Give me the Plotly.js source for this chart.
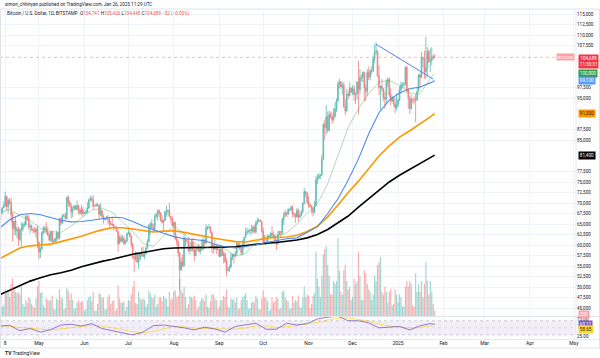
<!DOCTYPE html>
<html><head><meta charset="utf-8">
<script src="https://cdn.plot.ly/plotly-3.0.1.min.js"></script>
<style>html,body{margin:0;padding:0;background:#fff;}#chart{width:600px;height:358px;}</style>
</head><body><div id="chart"></div>
<script>
// ---------- DATA (prices in thousands of USD) ----------
const startDate = '2024-04-04';
const firstOpenK = 65.9;
const closeK = [
 68.5,67.8,68.9,69.4,71.6,69.1,70.6,70.0,67.2,63.9,65.7,63.4,63.8,61.3,63.5,63.8,64.9,64.9,66.8,66.4,64.3,64.5,63.8,63.4,63.1,63.8,60.6,
 58.3,59.1,62.9,63.9,64.0,63.1,62.3,61.2,63.1,60.8,60.8,61.5,62.9,61.6,66.3,65.2,67.0,66.9,66.3,71.4,70.1,69.2,67.9,68.5,69.3,68.5,69.4,68.4,67.6,68.4,67.5,
 67.7,67.8,68.8,70.6,71.1,70.8,69.3,69.3,69.6,69.5,67.3,68.2,66.8,66.0,66.2,66.6,66.5,65.2,64.9,64.8,64.1,64.3,63.2,60.3,61.8,60.9,61.6,60.3,60.9,62.7,
 62.9,62.1,60.2,57.0,56.7,58.2,55.9,56.7,57.9,57.7,57.3,57.9,59.2,60.8,64.7,65.1,64.1,63.9,66.7,67.2,68.2,67.6,65.9,65.4,65.8,67.9,68.0,68.3,66.8,66.2,64.6,
 65.3,61.5,60.7,58.1,54.0,56.0,55.1,61.7,60.9,60.9,58.7,59.3,60.6,58.7,57.5,58.9,59.5,58.4,59.5,59.0,61.2,60.4,64.1,64.2,64.2,62.9,59.4,59.0,59.4,59.1,58.9,
 57.3,59.1,57.5,57.9,56.1,53.9,54.1,54.8,57.0,57.6,57.3,58.1,60.5,60.0,59.1,58.2,60.3,61.8,62.9,63.2,63.4,63.6,63.3,64.3,63.1,65.2,65.8,65.9,65.6,63.3,
 60.8,60.6,60.7,62.1,62.1,62.8,62.3,62.2,60.6,60.3,62.5,63.2,62.9,66.0,67.0,67.6,67.4,68.4,68.4,69.0,67.4,67.4,66.7,68.2,66.6,67.0,68.0,69.9,72.7,72.3,70.2,
 69.5,69.3,68.7,67.8,69.4,75.6,75.9,76.5,76.7,80.4,88.7,87.9,90.5,87.3,91.1,90.6,89.8,90.5,92.3,94.3,98.4,98.9,97.7,98.0,93.0,91.9,95.9,95.6,97.4,96.4,
 97.2,95.8,96.0,98.8,97.0,99.9,99.9,101.1,97.4,96.6,101.1,100.0,101.4,101.4,104.3,106.0,106.1,100.2,97.5,97.8,97.2,95.1,94.7,98.7,99.4,95.8,94.2,95.2,93.6,92.7,93.4,
 94.4,96.9,98.1,98.2,98.3,102.3,96.9,95.0,92.5,94.7,94.6,94.5,94.5,96.5,100.5,99.9,104.4,104.5,101.2,102.2,106.1,103.7,104.0,104.8,104.741,104.689
];
const highK = [
 69.2,68.7,69.0,70.3,72.7,71.7,71.1,71.2,71.2,67.9,65.7,66.9,64.3,64.4,64.1,65.4,65.4,65.6,67.2,67.2,67.1,65.3,64.8,63.9,64.3,64.2,64.7,
 60.8,59.6,63.3,64.5,64.6,65.5,64.4,62.9,63.4,63.4,61.4,61.8,63.4,63.1,66.4,66.6,67.4,67.4,67.7,71.4,71.9,70.6,70.0,69.2,69.5,69.5,70.6,69.6,68.9,69.5,69.0,
 67.8,68.4,70.2,71.1,71.8,71.6,71.9,69.5,69.9,70.1,69.6,69.9,68.4,67.3,66.4,66.9,67.2,66.5,65.7,66.4,65.0,64.5,64.5,63.4,62.3,62.4,62.3,62.2,61.2,63.0,
 63.8,63.3,62.3,60.5,57.5,58.5,58.3,58.2,58.3,59.4,59.6,58.5,59.8,61.4,64.9,65.4,66.1,65.1,67.4,67.6,68.4,68.5,67.8,67.1,66.1,68.2,69.4,68.3,70.0,66.9,66.8,
 65.6,65.6,62.2,61.1,58.3,57.0,57.7,62.7,61.7,61.5,61.8,60.6,61.4,61.7,59.8,59.8,59.6,60.2,59.6,61.4,61.8,61.4,64.9,64.5,65.0,64.5,63.2,60.2,61.2,59.9,59.4,
 59.1,59.4,59.8,58.5,58.3,56.9,54.8,55.3,58.1,58.0,57.9,58.6,60.6,60.6,60.4,59.2,61.3,61.8,64.1,64.1,63.6,64.0,64.8,64.6,64.8,65.8,66.5,66.3,66.1,65.6,
 64.1,62.4,61.5,62.5,62.3,63.0,64.5,63.2,62.5,61.3,63.4,63.4,63.3,66.5,67.9,68.4,67.9,68.9,68.7,69.4,69.5,67.8,67.5,68.8,68.7,67.5,68.3,70.2,73.6,72.9,72.6,
 71.6,70.0,69.4,69.0,70.5,76.4,76.9,77.2,76.8,81.5,89.0,89.9,93.3,91.8,91.9,91.8,91.5,92.6,94.0,94.9,99.0,99.6,99.0,98.6,98.9,94.7,97.2,96.6,98.7,97.5,
 98.0,98.1,96.3,99.0,103.9,101.9,100.6,101.4,101.2,98.3,101.9,102.5,101.9,102.6,105.1,107.8,108.3,106.5,102.8,98.0,99.5,97.4,96.4,99.4,99.9,99.9,97.3,95.5,95.2,94.9,96.1,
 94.9,97.8,98.9,98.7,98.8,102.5,102.7,97.3,95.4,95.8,94.9,95.4,95.9,97.4,100.7,100.9,105.9,104.9,106.3,109.6,107.1,106.4,106.8,107.1,105.3,105.426
];
const lowK = [
 65.1,66.0,67.3,68.7,69.1,68.2,67.5,69.6,65.3,60.9,62.3,62.3,61.7,59.8,60.8,59.6,63.2,64.2,64.5,65.8,63.6,62.8,63.3,62.8,62.8,61.8,59.2,
 56.6,56.9,58.8,62.6,62.9,62.7,62.2,60.9,60.8,60.2,60.5,60.6,60.8,61.1,61.3,64.6,65.1,66.6,65.9,66.1,69.2,69.0,66.3,66.6,68.5,68.2,68.2,67.3,67.1,67.1,66.7,
 67.4,67.3,67.6,68.6,70.4,70.2,68.5,69.2,69.1,69.2,66.1,66.9,66.3,65.1,65.9,66.0,65.1,64.1,64.7,64.5,63.4,63.9,63.1,58.4,60.2,60.7,60.6,60.0,60.3,60.7,
 62.5,61.8,59.4,56.8,53.5,56.1,55.8,54.3,56.3,57.2,57.1,56.6,57.8,59.2,60.7,62.5,64.0,63.3,63.3,66.5,65.8,66.6,65.5,65.1,63.4,65.8,66.7,67.1,66.6,65.3,64.5,
 62.3,61.2,59.9,57.2,49.1,53.9,54.6,54.8,59.6,60.3,58.3,57.7,58.4,58.4,56.1,57.3,58.8,58.4,57.8,58.6,58.8,59.8,60.3,63.6,63.8,62.8,58.1,57.9,58.8,57.8,58.7,
 57.2,57.1,57.4,55.6,55.7,52.5,53.7,53.6,54.6,56.4,55.6,57.3,57.6,59.5,58.7,57.5,57.6,59.2,61.7,62.4,62.8,62.4,62.7,62.7,62.9,62.7,64.8,65.4,65.4,62.9,
 60.1,60.0,59.9,60.5,61.7,61.8,62.1,61.8,60.3,58.9,60.0,62.4,62.0,62.4,64.8,66.7,66.7,67.1,68.0,68.1,66.6,66.6,65.3,66.5,65.5,66.5,66.8,67.5,69.7,71.4,69.7,
 68.8,69.0,67.5,66.8,67.5,69.3,74.5,75.6,75.7,76.4,80.2,85.1,86.2,86.7,87.1,90.1,88.8,89.4,90.4,91.6,94.1,97.2,97.2,95.8,92.6,90.9,91.8,94.7,95.4,96.1,
 95.7,94.3,93.6,94.6,91.0,95.9,98.9,98.8,94.2,94.3,95.6,99.3,99.2,100.6,101.2,103.3,105.3,100.0,95.7,92.1,96.4,94.2,92.4,93.4,97.6,95.1,93.3,94.1,92.9,91.4,92.0,
 92.8,94.2,96.0,97.5,97.3,97.9,96.1,92.5,91.2,92.2,93.8,93.7,89.2,94.3,96.5,97.3,99.9,102.3,99.6,99.5,100.1,103.3,101.2,102.8,104.1,104.445
];
const volume = [
 900,750,350,400,950,850,900,700,1200,1400,1000,900,850,900,800,1100,450,350,600,500,700,650,450,350,300,650,1100,
 1300,850,900,400,300,650,600,550,600,750,250,250,650,600,1000,700,650,250,300,1050,950,600,850,600,250,300,500,600,500,550,550,
 200,250,600,700,750,550,900,200,200,450,850,800,650,700,250,250,700,800,450,550,600,200,250,1150,650,500,500,550,200,350,
 600,550,800,1100,1300,500,450,900,650,600,650,600,350,450,950,850,700,650,800,350,450,700,700,550,750,650,650,350,900,600,650,
 900,950,700,750,1400,950,850,1100,700,300,450,750,700,650,750,600,250,350,550,650,650,550,800,350,300,550,800,800,650,600,250,
 350,600,600,750,700,1000,350,300,650,600,650,500,700,250,300,600,700,750,850,600,250,300,500,550,500,750,650,250,250,650,
 950,700,650,550,200,250,700,500,550,700,650,250,300,900,950,700,600,550,250,300,750,500,600,550,750,350,300,700,1100,700,800,
 750,300,450,750,850,2400,1400,1100,700,1500,2300,2500,2600,1900,1500,800,800,1300,1200,1300,2900,1700,900,800,1700,1900,1300,1000,1100,600,
 700,1400,1200,1300,2400,1500,600,600,1700,1600,1200,1000,900,600,800,1500,1300,1900,2000,2200,900,800,1100,900,500,900,1000,400,450,1000,800,
 500,800,700,350,350,1100,1300,1100,1300,1200,400,350,1600,900,1200,900,1300,700,1200,2000,1300,800,1300,900,450,200
];
// weekly readings of the indicator lines (Apr 4 2024 every 7 days, then Jan 26 2025)
const maStart = '2024-04-04';
const maLastDate = '2025-01-26';
const sma20K = [67.6,68.5,67.0,65.8,64.0,63.2,63.0,64.5,66.5,68.3,68.7,67.8,65.5,63.2,60.4,59.6,62.2,64.5,62.8,60.4,59.2,60.1,59.0,57.4,58.0,60.6,62.0,62.0,62.9,65.0,67.6,69.8,74.6,81.5,88.0,92.5,96.0,98.8,99.2,98.0,96.2,96.0,99.6,100.8];
const sma50K = [64.0,66.0,67.2,67.5,67.2,66.6,65.9,65.5,65.6,65.9,66.3,66.6,66.5,65.6,64.5,63.6,62.8,62.0,61.5,61.3,61.0,60.2,59.6,59.3,59.6,60.0,60.6,61.1,61.5,61.7,63.0,64.3,67.5,71.0,75.5,80.5,86.5,91.5,94.5,96.2,97.2,97.6,98.6,99.1];
const sma100K = [56.7,58.0,59.3,59.8,60.0,60.2,60.8,61.4,62.1,62.9,63.6,64.1,64.1,63.8,63.4,63.1,63.3,63.4,63.0,62.5,62.0,61.6,61.2,60.8,60.7,61.2,61.6,61.8,61.9,62.3,63.2,64.5,66.7,69.5,72.5,75.2,78.2,81.2,83.6,85.7,87.2,88.8,90.5,91.3];
const sma200K = [48.1,49.2,50.3,51.4,52.2,52.9,53.4,54.0,54.8,55.5,56.1,56.6,57.2,57.8,58.2,58.6,59.1,59.3,59.4,59.4,59.4,59.4,59.5,59.6,59.9,60.2,60.4,60.6,60.9,61.2,61.7,62.5,63.7,65.2,66.9,69.0,71.0,73.2,75.0,76.6,78.0,79.4,80.8,81.4];
const rsi = [55,57,42,48,38,45,58,60,55,62,48,42,38,30,38,56,58,55,50,44,52,47,38,54,58,63,46,46,63,58,62,75,80,83,70,70,64,50,52,54,44,56,62,60.11];
const rsiMa = [55,55,51,48,45,44,47,51,55,57,55,51,45,39,35,40,48,54,53,49,48,48,46,46,50,56,56,51,53,57,59,65,72,77,78,74,69,61,55,52,50,51,55,58.65];
// drawn trend line (Dec 17 high to Jan 25)
const trendDates = ['2024-12-17','2025-01-25'];
const trendK = [107.8, 99.5];
// time axis labels
const xTickDates = ['2024-04-08','2024-05-01','2024-06-01','2024-07-01','2024-08-01','2024-09-01','2024-10-01','2024-11-01','2024-12-01','2025-01-01','2025-02-01','2025-03-01','2025-04-01','2025-05-01'];
const xTickText = ['8','May','Jun','Jul','Aug','Sep','Oct','Nov','Dec','2025','Feb','Mar','Apr','May'];

// ---------- BUILD ----------
function addDays(s, n){const d=new Date(s+'T00:00:00Z');d.setUTCDate(d.getUTCDate()+n);return d.toISOString().slice(0,10);}
const K = 1000;
const dates = closeK.map((_, i) => addDays(startDate, i));
const close = closeK.map(v => v*K), high = highK.map(v => v*K), low = lowK.map(v => v*K);
const open = close.map((c, i) => i === 0 ? firstOpenK*K : close[i-1]);
const maDates = sma20K.slice(0, -1).map((_, i) => addDays(maStart, 7*i)).concat([maLastDate]);
const fmt = v => Math.round(v).toLocaleString('en-US');
const last = close.length - 1;
const lastOf = a => a[a.length-1];

const UP = '#26a69a', DN = '#ef5350';
const volColors = close.map((c, i) => c >= open[i] ? 'rgba(38,166,154,0.45)' : 'rgba(239,83,80,0.45)');

const traces = [
  {type:'bar', x:dates, y:volume, yaxis:'y3', marker:{color:volColors, line:{width:0}}, hoverinfo:'skip'},
  {type:'scatter', mode:'lines', x:maDates, y:sma200K.map(v=>v*K), line:{color:'#000000', width:1.6}, hoverinfo:'skip'},
  {type:'scatter', mode:'lines', x:maDates, y:sma100K.map(v=>v*K), line:{color:'#ff9800', width:1.6}, hoverinfo:'skip'},
  {type:'scatter', mode:'lines', x:maDates, y:sma50K.map(v=>v*K), line:{color:'#4d8af0', width:1.1}, hoverinfo:'skip'},
  {type:'scatter', mode:'lines', x:maDates, y:sma20K.map(v=>v*K), line:{color:'rgba(76,175,80,0.55)', width:0.8}, hoverinfo:'skip'},
  {type:'candlestick', x:dates, open:open, high:high, low:low, close:close, yaxis:'y',
   increasing:{line:{color:UP, width:0.8}, fillcolor:UP}, decreasing:{line:{color:DN, width:0.8}, fillcolor:DN},
   whiskerwidth:0, opacity:0.75, hoverinfo:'skip'},
  {type:'scatter', mode:'lines', x:trendDates, y:trendK.map(v=>v*K), line:{color:'#5b7cf7', width:1}, hoverinfo:'skip'},
  {type:'scatter', mode:'lines', x:maDates, y:rsiMa, yaxis:'y2', line:{color:'#fdd835', width:0.8}, hoverinfo:'skip'},
  {type:'scatter', mode:'lines', x:maDates, y:rsi, yaxis:'y2', line:{color:'#7e57c2', width:0.8}, hoverinfo:'skip'}
];

const H = 329; // plot height in px (10..339)
const py = p => (339 - p) / H;   // pixel y -> paper
const px = p => p / 576;          // pixel x -> paper
const font = "Roboto, 'Liberation Sans', Arial, sans-serif";
const yRange = [43095, 115952];
const valToPx = v => 10 + (yRange[1] - v) * 306 / (yRange[1] - yRange[0]);

// price-scale tags (value, half-height in px)
const priceTagY = close[last] - 1100;
const tagVals = [[priceTagY, 6], [lastOf(sma20K)*K, 3.5], [lastOf(sma50K)*K, 3.5], [lastOf(sma100K)*K, 3.5], [lastOf(sma200K)*K, 3.5]];
const yTicks = [];
for (let v = 45000; v <= 115000; v += 2500) {
  const p = valToPx(v);
  if (tagVals.every(([tv, hh]) => Math.abs(valToPx(tv) - p) > hh + 2.4)) yTicks.push(v);
}

function tag(y, text, bg, fc, yref){
  return {xref:'paper', x:1.003, xanchor:'left', yref:yref||'y', y:y, yanchor:'middle', text:text,
          bgcolor:bg, font:{size:4.6, color:fc, family:font}, showarrow:false, borderpad:0.8};
}
const legendTxt = 'Bitcoin / U.S. Dollar, 1D, BITSTAMP  ' +
  '<span style="color:#131722">O</span><span style="color:#ef5350">' + fmt(open[last]) + '</span> ' +
  '<span style="color:#131722">H</span><span style="color:#ef5350">' + fmt(high[last]) + '</span> ' +
  '<span style="color:#131722">L</span><span style="color:#ef5350">' + fmt(low[last]) + '</span> ' +
  '<span style="color:#131722">C</span><span style="color:#ef5350">' + fmt(close[last]) + ' ' +
  '−' + fmt(open[last]-close[last]) + ' (−' + ((open[last]-close[last])/open[last]*100).toFixed(2) + '%)</span>';

const layout = {
  width:600, height:358, margin:{l:0, r:24, t:10, b:19},
  paper_bgcolor:'#ffffff', plot_bgcolor:'#ffffff', showlegend:false,
  font:{family:font, size:5, color:'#131722'},
  xaxis:{type:'date', range:['2024-04-04 10:00','2025-05-02 10:00'], anchor:'y2',
         tickvals:xTickDates, ticktext:xTickText, tickfont:{size:5, color:'#131722'},
         showgrid:true, gridcolor:'#f0f3fa', gridwidth:1, zeroline:false, showline:false, ticks:'',
         rangeslider:{visible:false}, fixedrange:true},
  yaxis:{domain:[py(316),1], range:yRange, side:'right', tickvals:yTicks, tickformat:',d',
         tickfont:{size:4.6, color:'#131722'}, showgrid:true, gridcolor:'#f0f3fa', zeroline:false, ticks:'', fixedrange:true},
  yaxis3:{overlaying:'y', range:[0,11400], visible:false, fixedrange:true},
  yaxis2:{domain:[0,py(317)], range:[18.5,80.6], side:'right', tickvals:[25,75], ticktext:['25.00','75.00'],
          tickfont:{size:4.6, color:'#131722'}, showgrid:false, zeroline:false, ticks:'', fixedrange:true},
  shapes:[
    {type:'rect', xref:'paper', yref:'y2', x0:0, x1:1, y0:30, y1:70, fillcolor:'rgba(126,87,194,0.10)', line:{width:0}, layer:'below'},
    {type:'line', xref:'paper', yref:'y2', x0:0, x1:1, y0:70, y1:70, line:{color:'rgba(120,123,134,0.6)', width:0.6, dash:'dot'}},
    {type:'line', xref:'paper', yref:'y2', x0:0, x1:1, y0:50, y1:50, line:{color:'rgba(120,123,134,0.35)', width:0.6, dash:'dot'}},
    {type:'line', xref:'paper', yref:'y2', x0:0, x1:1, y0:30, y1:30, line:{color:'rgba(120,123,134,0.6)', width:0.6, dash:'dot'}},
    {type:'line', xref:'paper', yref:'y', x0:0, x1:1, y0:close[last], y1:close[last], line:{color:'rgba(239,83,80,0.6)', width:0.7, dash:'dot'}},
    {type:'line', xref:'paper', yref:'paper', x0:0, x1:px(600), y0:py(316.5), y1:py(316.5), line:{color:'#e0e3eb', width:1}},
    {type:'line', xref:'paper', yref:'paper', x0:1, x1:1, y0:py(348), y1:py(9), line:{color:'#e0e3eb', width:0.8}},
    {type:'line', xref:'paper', yref:'paper', x0:0, x1:px(600), y0:py(339.5), y1:py(339.5), line:{color:'#e0e3eb', width:0.8}},
    {type:'rect', xref:'paper', yref:'paper', x0:px(0.5), x1:px(599.5), y0:py(348), y1:py(9), line:{color:'#e0e3eb', width:1}, fillcolor:'rgba(0,0,0,0)'}
  ],
  annotations:[
    {xref:'paper', yref:'paper', x:px(3), y:py(4.5), xanchor:'left', yanchor:'middle', showarrow:false,
     text:'simon_chhinyan published on TradingView.com, Jan 26, 2025 11:29 UTC', font:{size:4.6, color:'#131722'}},
    {xref:'paper', yref:'paper', x:px(5), y:py(13), xanchor:'left', yanchor:'middle', showarrow:false,
     text:legendTxt, font:{size:4.6, color:'#131722'}},
    {xref:'paper', yref:'paper', x:px(3), y:py(352.5), xanchor:'left', yanchor:'middle', showarrow:false,
     text:'<b>TV</b> TradingView', font:{size:5, color:'#131722'}},
    {xref:'paper', x:0.999, xanchor:'right', yref:'y', y:close[last], yanchor:'middle', text:'BTCUSD',
     bgcolor:'#f7a3a6', font:{size:4.2, color:'#ffffff'}, showarrow:false, borderpad:0.6},
    tag(priceTagY, fmt(close[last]) + '<br>11:30:31', '#f23645', '#ffffff'),
    tag(lastOf(sma20K)*K, fmt(lastOf(sma20K)*K), '#2e9b3e', '#ffffff'),
    tag(lastOf(sma50K)*K, fmt(lastOf(sma50K)*K), '#5b9cf6', '#ffffff'),
    tag(lastOf(sma100K)*K, fmt(lastOf(sma100K)*K), '#ff9800', '#131722'),
    tag(lastOf(sma200K)*K, fmt(lastOf(sma200K)*K), '#000000', '#ffffff'),
    tag(43400, fmt(volume[last]), '#f7a3a6', '#ffffff'),
    tag(lastOf(rsi), lastOf(rsi).toFixed(2), '#7e57c2', '#ffffff', 'y2'),
    tag(lastOf(rsiMa)-14, lastOf(rsiMa).toFixed(2), '#fdd835', '#131722', 'y2')
  ]
};

Plotly.newPlot('chart', traces, layout, {staticPlot:true, displayModeBar:false});
</script>
</body></html>
